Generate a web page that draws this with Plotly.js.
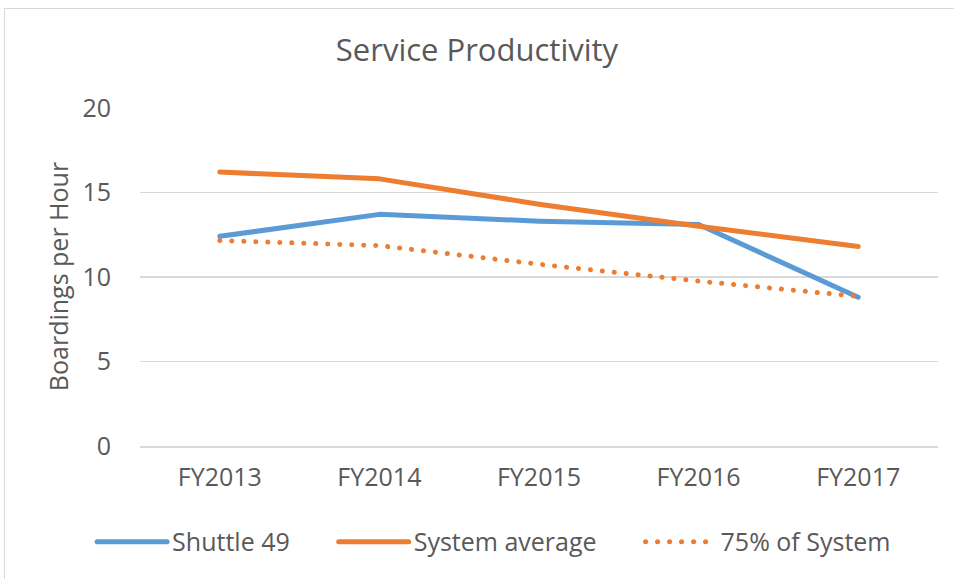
<!DOCTYPE html>
<html>
<head>
<meta charset="utf-8">
<script src="https://cdn.plot.ly/plotly-3.0.1.min.js"></script>
<style>
html, body { margin: 0; padding: 0; background: #fff; }
#frame { position: absolute; left: 4px; top: 8px; width: 960px; height: 580px; border-left: 1.5px solid #d9d9d9; border-top: 1.5px solid #d9d9d9; }
#chart { position: absolute; left: 0; top: 0; width: 954px; height: 579px; }
path.js-line { stroke-linecap: round; stroke-linejoin: round; }
</style>
</head>
<body>
<div id="frame"></div>
<div id="chart"></div>
<script>
const categories = ["FY2013", "FY2014", "FY2015", "FY2016", "FY2017"];
const shuttle49 = [12.4, 13.7, 13.3, 13.1, 8.8];
const systemAverage = [16.2, 15.8, 14.3, 13.0, 11.8];
const pct75System = [12.15, 11.85, 10.75, 9.75, 8.85];
const seriesNames = ["Shuttle 49", "System average", "75% of System"];
const yTicks = [0, 5, 10, 15, 20];

const FONT = "'Open Sans', sans-serif";
const GREY = "#595959";
const PAD = "\u00a0\u00a0\u00a0\u00a0\u00a0\u00a0";

const traces = [
  { x: categories, y: shuttle49, name: seriesNames[0] + PAD, type: "scatter", mode: "lines",
    line: { color: "#5B9BD5", width: 5 } },
  { x: categories, y: systemAverage, name: seriesNames[1] + PAD, type: "scatter", mode: "lines",
    line: { color: "#ED7D31", width: 5 } },
  { x: categories, y: pct75System, name: seriesNames[2], type: "scatter", mode: "lines",
    line: { color: "#ED7D31", width: 5, dash: "0.1px,11.9px" } }
];

const layout = {
  width: 954, height: 579,
  paper_bgcolor: "rgba(0,0,0,0)", plot_bgcolor: "rgba(0,0,0,0)",
  margin: { l: 140, r: 16, t: 107, b: 133 },
  font: { family: FONT, color: GREY, size: 25 },
  title: { text: "Service Productivity", x: 0.5, xanchor: "center", y: 0.913, yanchor: "middle",
           font: { family: FONT, size: 31, color: GREY } },
  showlegend: true,
  legend: { orientation: "h", x: -0.06, xanchor: "left", y: -0.283, yanchor: "middle",
            font: { family: FONT, size: 25, color: GREY }, itemwidth: 70, traceorder: "normal" },
  xaxis: { type: "category", range: [-0.5, 4.5], showgrid: false, zeroline: false,
           showline: true, linecolor: "#d9d9d9", linewidth: 1.5, ticks: "",
           tickfont: { family: FONT, size: 25, color: GREY }, ticklabelstandoff: 8 },
  yaxis: { range: [0, 20.05], tickvals: yTicks, ticktext: yTicks.map(String),
           showgrid: true, gridcolor: "#d9d9d9", gridwidth: 1.5, zeroline: false,
           showline: false, ticks: "",
           tickfont: { family: FONT, size: 25, color: GREY }, ticklabelstandoff: 28,
           title: { text: "Boardings per Hour", font: { family: FONT, size: 25, color: GREY }, standoff: 6 } }
};

Plotly.newPlot("chart", traces, layout, { displayModeBar: false, staticPlot: true });
</script>
</body>
</html>
